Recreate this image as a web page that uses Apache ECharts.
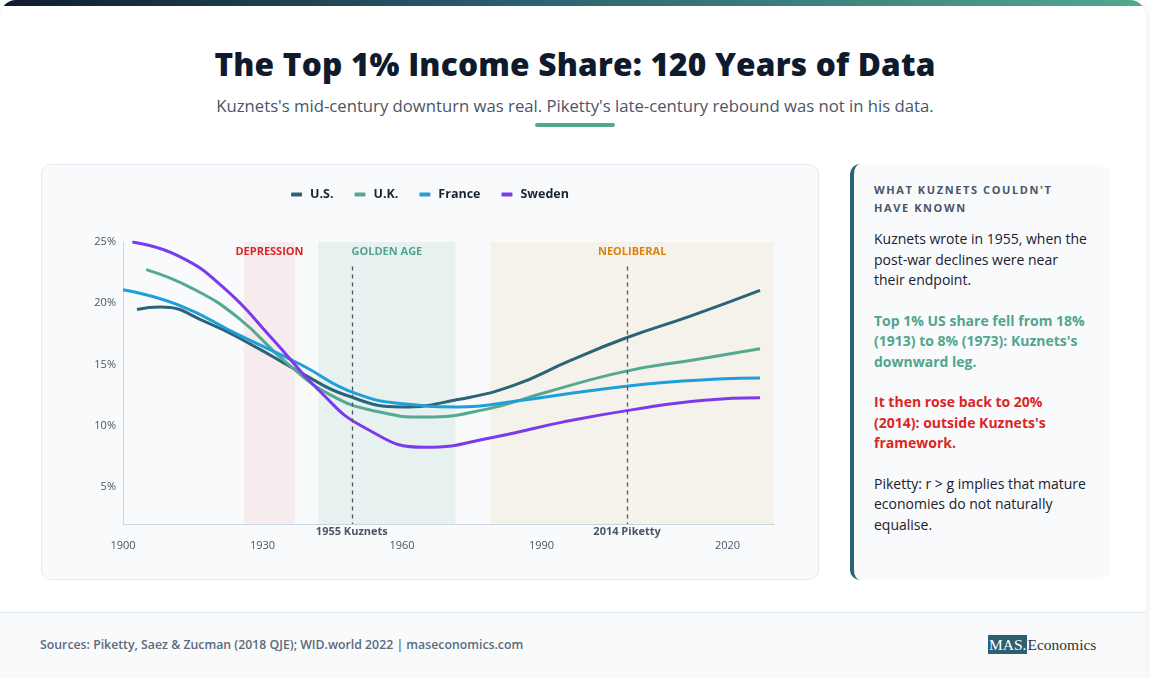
<!DOCTYPE html>
<html>
<head>
<meta charset="utf-8">
<script src="https://cdn.jsdelivr.net/npm/echarts@6/dist/echarts.min.js"></script>
<style>
  html, body { margin:0; padding:0; background:#ffffff; }
  body { width:1150px; height:678px; position:relative; overflow:hidden; font-family:'Open Sans', 'Noto Sans', sans-serif; }
  .page { position:absolute; left:0; top:0; width:1146px; height:690px; background:#ffffff; border-radius:16px; overflow:hidden; box-shadow:0 2px 8px rgba(15,27,45,0.10); }
  .topbar { position:absolute; left:0; top:0; width:100%; height:6px; background:linear-gradient(90deg,#0f1b2d 0%,#2c5f6e 45%,#52a88f 100%); }
  .title { position:absolute; left:0; width:1150px; top:44px; text-align:center; font-size:31.6px; font-weight:800; color:#0f1b2d; letter-spacing:0.2px; line-height:40px; }
  .subtitle { position:absolute; left:0; width:1150px; top:95px; text-align:center; font-size:16.7px; color:#4a5568; line-height:22px; }
  .underline { position:absolute; left:535px; top:123px; width:80px; height:4px; border-radius:2px; background:#52a88f; }
  .card { position:absolute; left:41px; top:164px; width:776px; height:414px; background:#f8fafc; border:1px solid #e4e9ef; border-radius:10px; }
  #chart { position:absolute; left:41px; top:164px; width:778px; height:416px; }
  .panel { position:absolute; left:850px; top:164px; width:216px; height:399px; background:#f8fafc; border-left:4px solid #2c6373; border-radius:10px; padding:17px 20px 0 20px; }
  .panel h4 { margin:0; font-size:11px; font-weight:700; letter-spacing:1.6px; color:#4a5568; line-height:18px; text-transform:uppercase; }
  .panel p { margin:0 0 20px 0; font-size:14px; line-height:20.5px; color:#1a202c; }
  .panel p.first { margin-top:12px; }
  .panel p.green { color:#52a58c; font-weight:700; }
  .panel p.red { color:#dc2626; font-weight:700; }
  .footer { position:absolute; left:0; top:612px; width:1146px; height:80px; background:#f8fafc; border-top:1px solid #e2e8f0; }
  .source { position:absolute; left:40px; top:636px; font-size:12.3px; font-weight:600; color:#5b6b7c; line-height:18px; }
  .logo { position:absolute; left:988px; top:635px; font-family:'Liberation Serif','DejaVu Serif',serif; font-size:15.5px; line-height:19px; color:#333; }
  .logo .mas { background:#2c5f70; color:#ffffff; padding:1px 1px; }
</style>
</head>
<body>
<div class="page">
  <div class="topbar"></div>
  <div class="footer"></div>
</div>
<div class="title">The Top 1% Income Share: 120 Years of Data</div>
<div class="subtitle">Kuznets's mid-century downturn was real. Piketty's late-century rebound was not in his data.</div>
<div class="underline"></div>
<div class="card"></div>
<div id="chart"></div>
<div class="panel">
  <h4>What Kuznets couldn't have known</h4>
  <p class="first">Kuznets wrote in 1955, when the post-war declines were near their endpoint.</p>
  <p class="green">Top 1% US share fell from 18% (1913) to 8% (1973): Kuznets's downward leg.</p>
  <p class="red">It then rose back to 20% (2014): outside Kuznets's framework.</p>
  <p>Piketty: r &gt; g implies that mature economies do not naturally equalise.</p>
</div>
<div class="source">Sources: Piketty, Saez &amp; Zucman (2018 QJE); WID.world 2022 | maseconomics.com</div>
<div class="logo"><span class="mas">MAS.</span>Economics</div>

<script>
// ---- Data ----
const seriesNames = ['U.S.', 'U.K.', 'France', 'Sweden'];

const usYears = [1903, 1908, 1918, 1928, 1938, 1948, 1960, 1972, 1984, 1996, 2008, 2022, 2037];
const usShare = [19.5, 19.7, 18.45, 16.55, 14.4, 12.5, 11.55, 12.15, 13.3, 15.3, 17.15, 18.95, 21.05];

const ukYears = [1905, 1915, 1925, 1935, 1945, 1955, 1965, 1978, 1991, 2008, 2023, 2037];
const ukShare = [22.75, 21.2, 18.75, 15.2, 12.45, 11.15, 10.72, 11.35, 12.75, 14.45, 15.4, 16.3];

const frYears = [1900, 1912, 1925, 1938, 1950, 1962, 1972, 1985, 2000, 2015, 2028, 2037];
const frShare = [21.1, 19.85, 17.4, 15.05, 12.65, 11.75, 11.55, 12.05, 12.85, 13.5, 13.82, 13.9];

const seYears = [1902, 1912, 1922, 1932, 1942, 1952, 1965, 1980, 1995, 2010, 2025, 2037];
const seShare = [25.0, 23.85, 21.15, 17.15, 12.95, 9.85, 8.25, 9.1, 10.35, 11.35, 12.1, 12.3];

// Eras (shaded bands) and event markers
const eraNames = ['DEPRESSION', 'GOLDEN AGE', 'NEOLIBERAL'];
const eraStart = [1926, 1942, 1979];
const eraEnd   = [1937, 1971.5, 2040];

const eventNames = ['1955 Kuznets', '2014 Piketty'];
const eventX     = [1949.2, 2008.4];

// Tick labels
const xTickPos    = [1900, 1930, 1960, 1990, 2030];
const xTickLabels = ['1900', '1930', '1960', '1990', '2020'];
const yTicks      = [5, 10, 15, 20, 25];

// ---- Styles ----
const colors = ['#2c6477', '#55a990', '#1d9fd9', '#7c3aed'];
const eraFill = ['rgba(220,38,38,0.07)', 'rgba(82,165,140,0.10)', 'rgba(217,130,15,0.07)'];
const eraText = ['#d62828', '#52a58c', '#d9820f'];
const FONT = "'Open Sans', 'Noto Sans', sans-serif";

function pairs(xs, ys) { return xs.map((x, i) => [x, ys[i]]); }

const chart = echarts.init(document.getElementById('chart'), null, { renderer: 'canvas' });

const markAreaData = eraNames.map((n, i) => [
  { name: n, xAxis: eraStart[i], itemStyle: { color: eraFill[i] },
    label: { color: eraText[i] } },
  { xAxis: eraEnd[i] }
]);

const markLineData = eventNames.map((n, i) => [
  { name: n, coord: [eventX[i], 23] },
  { coord: [eventX[i], 2] }
]);

const lineSeries = (name, data, color, extra) => Object.assign({
  name, type: 'line', data, smooth: 0.5, showSymbol: false, symbol: 'none',
  lineStyle: { width: 3, color, cap: 'butt' }, itemStyle: { color },
  emphasis: { disabled: true }, z: 3
}, extra || {});

chart.setOption({
  animation: false,
  textStyle: { fontFamily: FONT },
  color: colors,
  legend: {
    top: 19, left: 'center', itemGap: 21, itemWidth: 11, itemHeight: 4, icon: 'roundRect',
    textStyle: { fontSize: 12.5, fontWeight: 700, color: '#1a2332', fontFamily: FONT, padding: [0, 0, 0, 3] },
    data: seriesNames
  },
  grid: { left: 82, right: 45, top: 78, bottom: 56 },
  xAxis: {
    type: 'value', min: 1900, max: 2040,
    axisLine: { show: true, lineStyle: { color: '#cbd5e1', width: 1 } },
    axisTick: { show: false },
    splitLine: { show: false },
    axisLabel: {
      customValues: xTickPos,
      formatter: (v) => { const k = xTickPos.indexOf(Math.round(v)); return k >= 0 ? xTickLabels[k] : ''; },
      color: '#4b5563', fontSize: 11, margin: 16, fontFamily: FONT
    }
  },
  yAxis: {
    type: 'value', min: 2, max: 25,
    axisLine: { show: true, lineStyle: { color: '#cbd5e1', width: 1 } },
    axisTick: { show: false },
    splitLine: { show: false },
    axisLabel: {
      customValues: yTicks,
      formatter: (v) => v + '%',
      color: '#4b5563', fontSize: 11, margin: 7, fontFamily: FONT
    }
  },
  series: [
    lineSeries(seriesNames[0], pairs(usYears, usShare), colors[0], {
      markArea: {
        silent: true,
        label: { show: true, position: 'insideTop', distance: 4, fontSize: 11, fontWeight: 700, fontFamily: FONT },
        data: markAreaData, z: 1
      },
      markLine: {
        silent: true, symbol: ['none', 'none'], animation: false,
        lineStyle: { type: [4, 4], color: '#4b5563', width: 1.3 },
        label: { show: true, position: 'end', distance: 2, formatter: '{b}', fontSize: 11, fontWeight: 700, color: '#4a5568', fontFamily: FONT },
        emphasis: { disabled: true },
        data: markLineData
      }
    }),
    lineSeries(seriesNames[1], pairs(ukYears, ukShare), colors[1]),
    lineSeries(seriesNames[2], pairs(frYears, frShare), colors[2]),
    lineSeries(seriesNames[3], pairs(seYears, seShare), colors[3])
  ]
});
</script>
</body>
</html>
